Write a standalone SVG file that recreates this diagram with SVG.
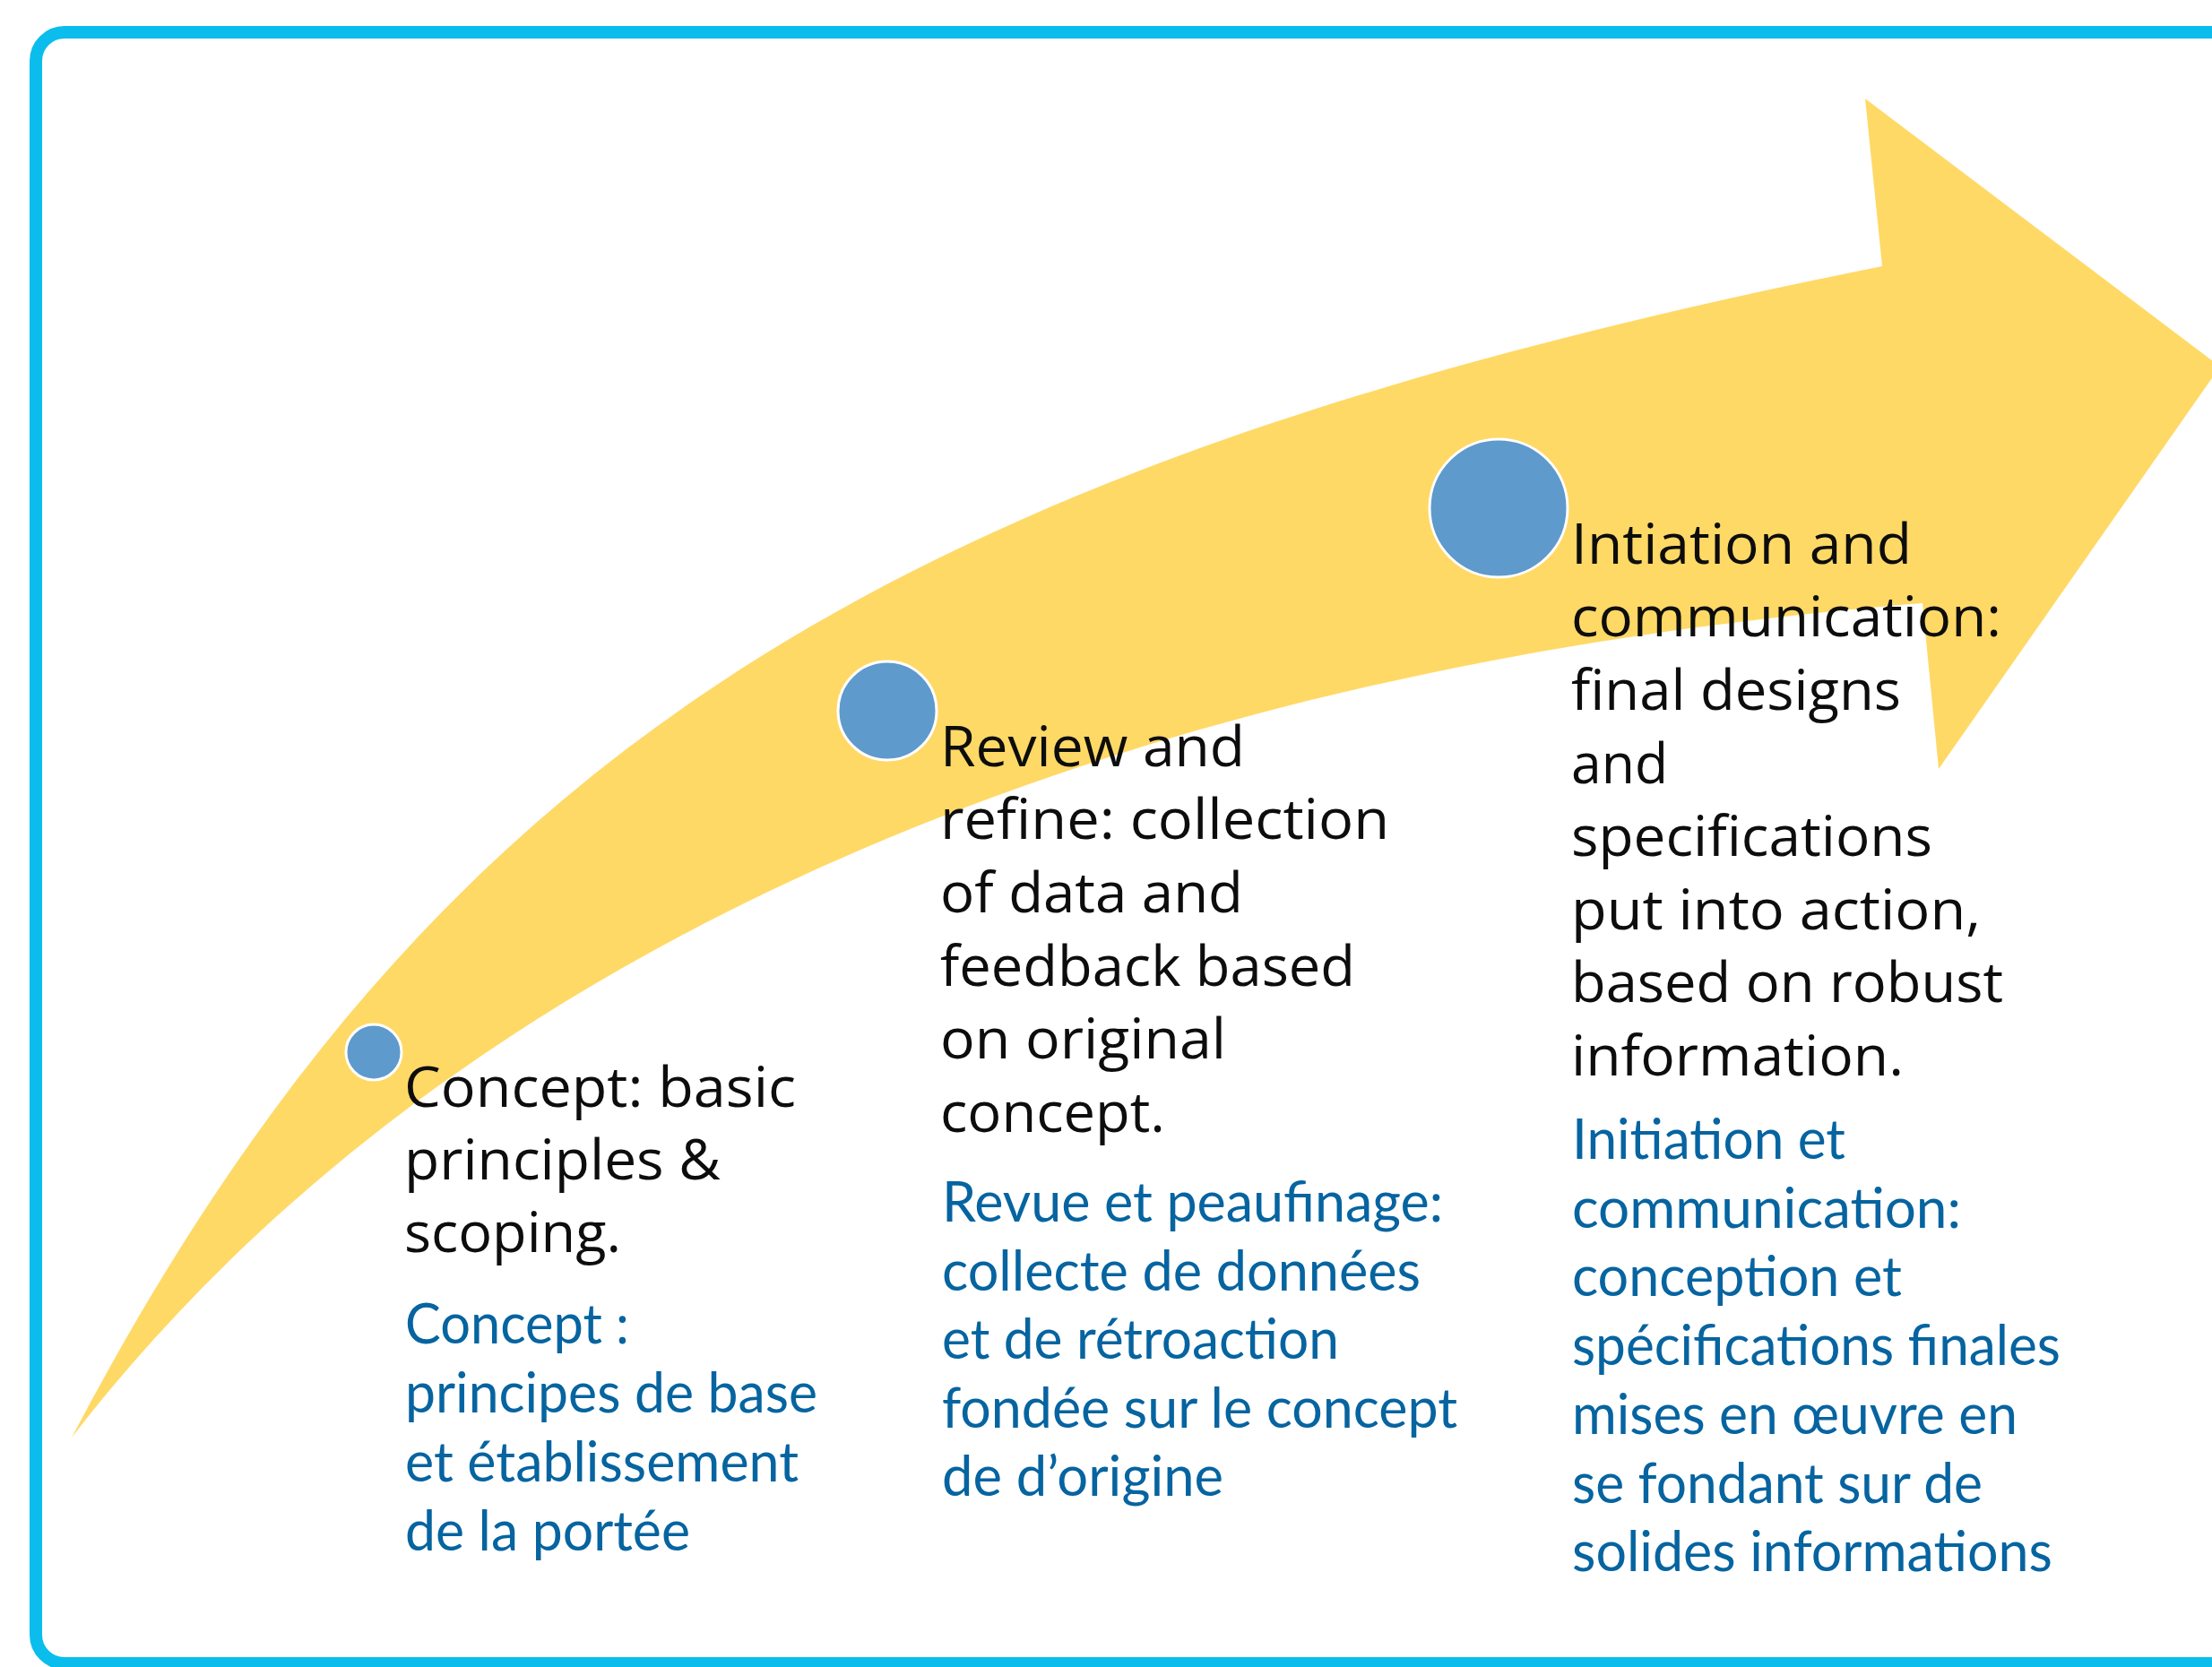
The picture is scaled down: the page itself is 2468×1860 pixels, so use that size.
<svg xmlns="http://www.w3.org/2000/svg" width="2468" height="1860" viewBox="0 0 2468 1860">
<style>
.en{font-family:"Open Sans","Liberation Sans",sans-serif;font-size:63px;fill:#0d0d0d}
.fr{font-family:Lato,"Open Sans","Liberation Sans",sans-serif;font-size:61px;fill:#0664a0}
.dot{fill:#5e9acc;stroke:#ffffff;stroke-width:3}
</style>
<rect width="2468" height="1860" fill="#ffffff"/>
<g id="frame">
<rect x="40" y="36" width="2600" height="1820" rx="32" ry="32" fill="none" stroke="#0bbded" stroke-width="14"/>
</g>
<g id="connectors">
<path id="arrow" fill="#ffd966" d="M80,1604 C478,847 983,521 2100,297 L2081,110 L2477,409 L2163,858 L2145,673 C1211,748 488,1074 80,1604 Z"/>
</g>
<g id="node-concept">
<circle class="dot" cx="417" cy="1174" r="31"/>
<text class="en" x="451" y="1235" textLength="437" lengthAdjust="spacingAndGlyphs">Concept: basic</text>
<text class="en" x="451" y="1316" textLength="353" lengthAdjust="spacingAndGlyphs">principles &amp;</text>
<text class="en" x="451" y="1397" textLength="242" lengthAdjust="spacingAndGlyphs">scoping.</text>
<text class="fr" x="452" y="1499" textLength="250" lengthAdjust="spacingAndGlyphs">Concept :</text>
<text class="fr" x="452" y="1576" textLength="460" lengthAdjust="spacingAndGlyphs">principes de base</text>
<text class="fr" x="452" y="1653" textLength="439" lengthAdjust="spacingAndGlyphs">et établissement</text>
<text class="fr" x="452" y="1730" textLength="318" lengthAdjust="spacingAndGlyphs">de la portée</text>
</g>
<g id="node-review">
<circle class="dot" cx="990" cy="793" r="55"/>
<text class="en" x="1049" y="855" textLength="340" lengthAdjust="spacingAndGlyphs">Review and</text>
<text class="en" x="1049" y="936" textLength="501" lengthAdjust="spacingAndGlyphs">refine: collection</text>
<text class="en" x="1049" y="1018" textLength="338" lengthAdjust="spacingAndGlyphs">of data and</text>
<text class="en" x="1049" y="1100" textLength="463" lengthAdjust="spacingAndGlyphs">feedback based</text>
<text class="en" x="1049" y="1181" textLength="319" lengthAdjust="spacingAndGlyphs">on original</text>
<text class="en" x="1049" y="1263" textLength="251" lengthAdjust="spacingAndGlyphs">concept.</text>
<text class="fr" x="1051" y="1363" textLength="559" lengthAdjust="spacingAndGlyphs">Revue et peaufinage:</text>
<text class="fr" x="1051" y="1440" textLength="534" lengthAdjust="spacingAndGlyphs">collecte de données</text>
<text class="fr" x="1051" y="1516" textLength="443" lengthAdjust="spacingAndGlyphs">et de rétroaction</text>
<text class="fr" x="1051" y="1593" textLength="575" lengthAdjust="spacingAndGlyphs">fondée sur le concept</text>
<text class="fr" x="1051" y="1669" textLength="314" lengthAdjust="spacingAndGlyphs">de d’origine</text>
</g>
<g id="node-initiation">
<circle class="dot" cx="1672" cy="567" r="77"/>
<text class="en" x="1753" y="629" textLength="380" lengthAdjust="spacingAndGlyphs">Intiation and</text>
<text class="en" x="1753" y="710" textLength="480" lengthAdjust="spacingAndGlyphs">communication:</text>
<text class="en" x="1753" y="792" textLength="368" lengthAdjust="spacingAndGlyphs">final designs</text>
<text class="en" x="1753" y="874" textLength="108" lengthAdjust="spacingAndGlyphs">and</text>
<text class="en" x="1753" y="955" textLength="403" lengthAdjust="spacingAndGlyphs">specifications</text>
<text class="en" x="1753" y="1037" textLength="457" lengthAdjust="spacingAndGlyphs">put into action,</text>
<text class="en" x="1753" y="1118" textLength="482" lengthAdjust="spacingAndGlyphs">based on robust</text>
<text class="en" x="1753" y="1200" textLength="371" lengthAdjust="spacingAndGlyphs">information.</text>
<text class="fr" x="1754" y="1293" textLength="305" lengthAdjust="spacingAndGlyphs">Initiation et</text>
<text class="fr" x="1754" y="1370" textLength="434" lengthAdjust="spacingAndGlyphs">communication:</text>
<text class="fr" x="1754" y="1446" textLength="368" lengthAdjust="spacingAndGlyphs">conception et</text>
<text class="fr" x="1754" y="1523" textLength="545" lengthAdjust="spacingAndGlyphs">spécifications finales</text>
<text class="fr" x="1754" y="1600" textLength="497" lengthAdjust="spacingAndGlyphs">mises en œuvre en</text>
<text class="fr" x="1754" y="1677" textLength="458" lengthAdjust="spacingAndGlyphs">se fondant sur de</text>
<text class="fr" x="1754" y="1753" textLength="536" lengthAdjust="spacingAndGlyphs">solides informations</text>
</g>
</svg>
